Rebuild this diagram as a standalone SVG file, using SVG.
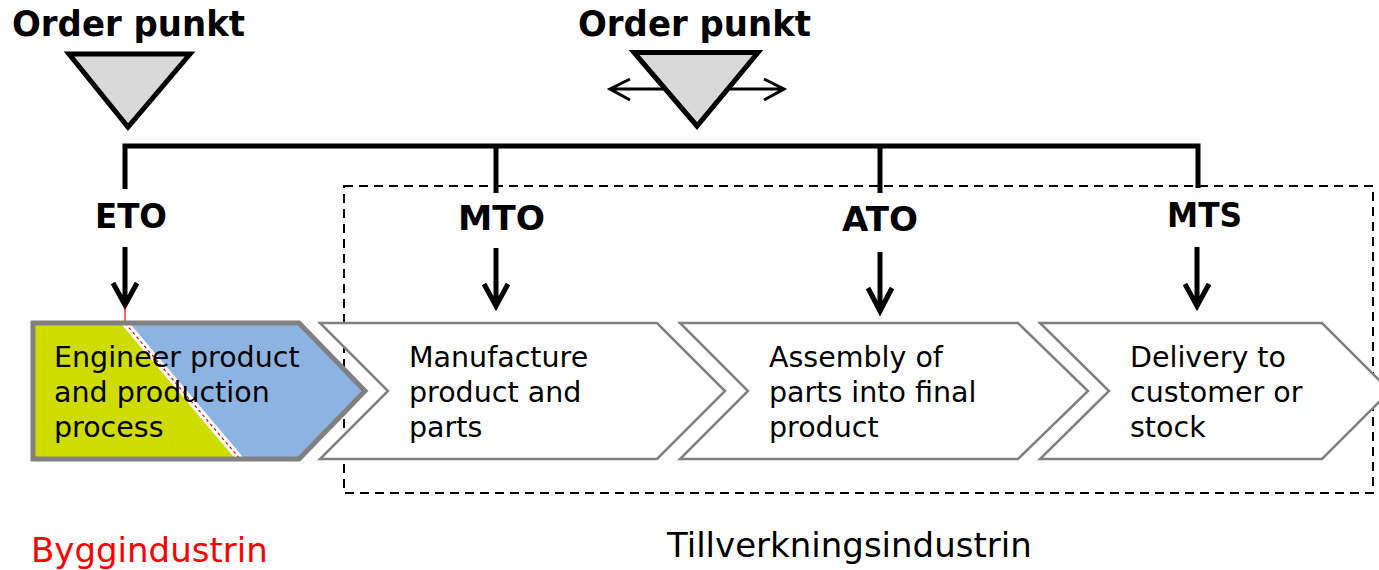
<svg xmlns="http://www.w3.org/2000/svg" width="1379" height="570" viewBox="0 0 1379 570">
<style>
.title{font-family:"DejaVu Sans",Verdana,sans-serif;font-weight:bold;font-size:35px;fill:#000}
.code{font-family:"DejaVu Sans",Verdana,sans-serif;font-weight:bold;font-size:34px;fill:#000}
.body{font-family:"DejaVu Sans",Verdana,sans-serif;font-size:28.5px;fill:#000}
.foot{font-family:"DejaVu Sans",Verdana,sans-serif;font-size:34px}
.tri{fill:#d9d9d9;stroke:#000;stroke-width:5;stroke-linejoin:miter}
.chev{fill:#fff;stroke:#808080;stroke-width:2.5}
.bus{fill:none;stroke:#000;stroke-width:5}
.arr{fill:none;stroke:#000;stroke-width:5}
.dbl{fill:none;stroke:#000;stroke-width:3}
</style>
<rect width="1379" height="570" fill="#fff"/>

<g id="connectors">
  <path class="bus" d="M125,189 V146 H1198 V188 M496,146 V193 M880,146 V193"/>
  <path class="arr" d="M125,247 V304 M113,283 L125,305 L137,283"/>
  <path class="arr" d="M496,248 V305 M484,284 L496,306 L508,284"/>
  <path class="arr" d="M880,252 V310 M868,288 L880,311 L892,288"/>
  <path class="arr" d="M1197,247 V305 M1185,284 L1197,306 L1209,284"/>
  <path class="dbl" d="M610,89 H784 M630,79 L610,89 L630,100 M764,79 L784,89 L764,100"/>
  <line x1="125" y1="307" x2="125" y2="323" stroke="#ff0000" stroke-width="1.2"/>
</g>

<g id="orderpoint-left">
  <text class="title" x="12" y="36" textLength="233" lengthAdjust="spacingAndGlyphs">Order punkt</text>
  <polygon class="tri" points="69,54 190,54 128,127"/>
</g>

<g id="orderpoint-middle">
  <text class="title" x="578" y="36" textLength="233" lengthAdjust="spacingAndGlyphs">Order punkt</text>
  <polygon class="tri" points="634,52.5 758,52.5 697,126"/>
</g>

<g id="label-eto"><text class="code" x="95" y="228" textLength="72" lengthAdjust="spacingAndGlyphs">ETO</text></g>
<g id="label-mto"><text class="code" x="458" y="230" textLength="87" lengthAdjust="spacingAndGlyphs">MTO</text></g>
<g id="label-ato"><text class="code" x="842" y="231" textLength="76" lengthAdjust="spacingAndGlyphs">ATO</text></g>
<g id="label-mts"><text class="code" x="1167" y="227" textLength="75" lengthAdjust="spacingAndGlyphs">MTS</text></g>

<g id="scope-box">
  <rect x="344" y="186" width="1029" height="307" fill="none" stroke="#000" stroke-width="2" stroke-dasharray="9,6"/>
</g>

<g id="step-engineer">
  <polygon points="33,323 299,323 365,391 299,459 33,459" fill="#8db3e2"/>
  <polygon points="33,323 125,323 240,459 33,459" fill="#cfdc00"/>
  <line x1="125" y1="323" x2="240" y2="459" stroke="#fff" stroke-width="7"/>
  <line x1="125" y1="323" x2="240" y2="459" stroke="#ff0000" stroke-width="1.2" stroke-dasharray="3,3"/>
  <polygon points="33,323 299,323 365,391 299,459 33,459" fill="none" stroke="#808080" stroke-width="5" stroke-linejoin="miter"/>
  <text class="body"><tspan x="54" y="367">Engineer product</tspan><tspan x="54" y="402">and production</tspan><tspan x="54" y="437">process</tspan></text>
</g>

<g id="step-manufacture">
  <polygon class="chev" points="320,323 657,323 725,391 657,459 320,459 388,391"/>
  <text class="body"><tspan x="409" y="367">Manufacture</tspan><tspan x="409" y="402">product and</tspan><tspan x="409" y="437">parts</tspan></text>
</g>

<g id="step-assembly">
  <polygon class="chev" points="680,323 1018,323 1088,391 1018,459 680,459 748,391"/>
  <text class="body"><tspan x="769" y="367">Assembly of</tspan><tspan x="769" y="402">parts into final</tspan><tspan x="769" y="437">product</tspan></text>
</g>

<g id="step-delivery">
  <polygon class="chev" points="1040,323 1322,323 1390,391 1322,459 1040,459 1109,391"/>
  <text class="body"><tspan x="1130" y="367">Delivery to</tspan><tspan x="1130" y="402">customer or</tspan><tspan x="1130" y="437">stock</tspan></text>
</g>

<g id="label-bygg"><text class="foot" x="31" y="562" fill="#ff0000">Byggindustrin</text></g>
<g id="label-tillverkning"><text class="foot" x="667" y="557" fill="#000">Tillverkningsindustrin</text></g>
</svg>
